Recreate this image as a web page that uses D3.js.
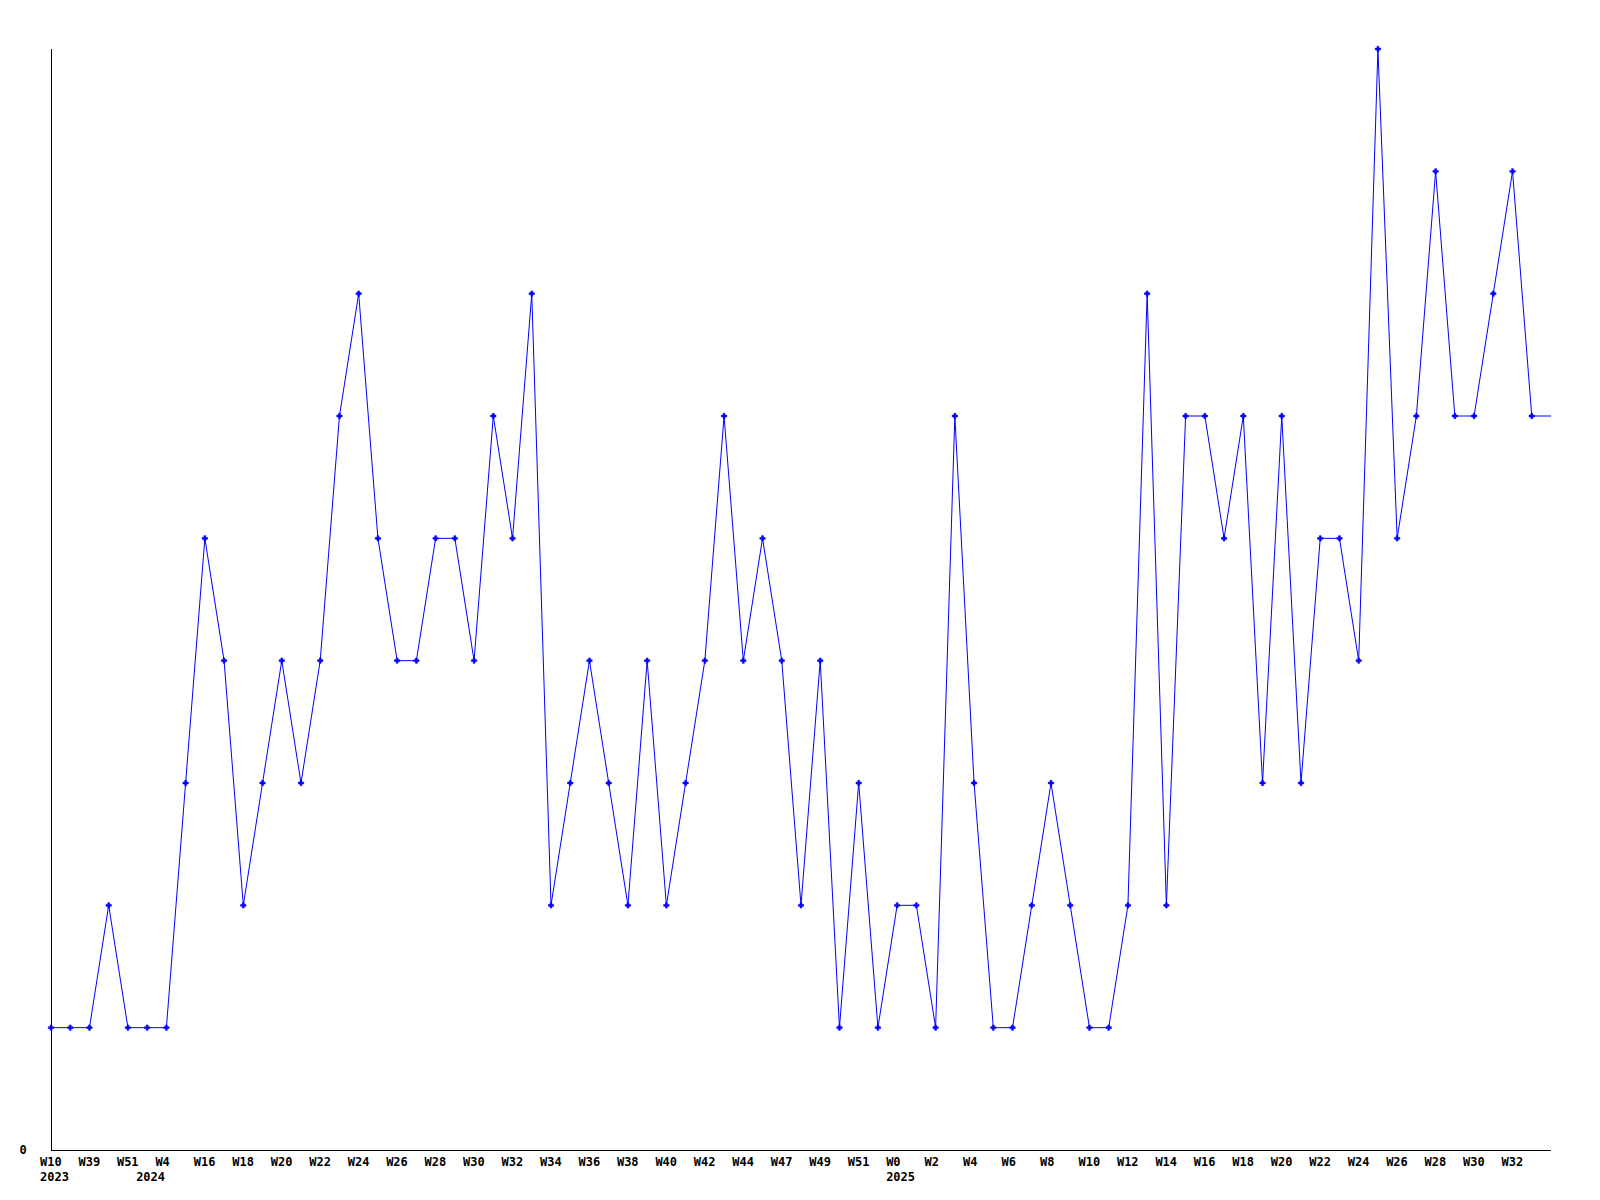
<!DOCTYPE html>
<html>
<head>
<meta charset="utf-8">
<script src="https://cdn.jsdelivr.net/npm/d3@7"></script>
<style>
  html, body { margin: 0; padding: 0; background: #fff; }
  svg { display: block; }
  text { font-family: "DejaVu Sans Mono", "Liberation Mono", monospace; font-weight: bold; font-size: 12px; fill: #000; }
</style>
</head>
<body>
<svg id="chart" width="1600" height="1200"></svg>
<script>
// Values per week (index order)
const values = [1,1,1,2,1,1,1,3,5,4,2,3,4,3,4,6,7,5,4,4,5,5,4,6,5,7,2,3,4,3,2,4,2,3,4,6,4,5,4,2,4,1,3,1,2,2,1,6,3,1,1,2,3,2,1,1,2,7,2,6,6,5,6,3,6,3,5,5,4,9,5,6,8,6,6,7,8,6,6];
// Week tick labels at every other point (index -> label)
const tickIndices = [0,2,4,6,8,10,12,14,16,18,20,22,24,26,28,30,32,34,36,38,40,42,44,46,48,50,52,54,56,58,60,62,64,66,68,70,72,74,76];
const tickLabels = ["W10","W39","W51","W4","W16","W18","W20","W22","W24","W26","W28","W30","W32","W34","W36","W38","W40","W42","W44","W47","W49","W51","W0","W2","W4","W6","W8","W10","W12","W14","W16","W18","W20","W22","W24","W26","W28","W30","W32"];
// Year labels (index -> year)
const yearIndices = [0, 5, 44];
const yearLabels = ["2023", "2024", "2025"];
const yTicks = [0];
const yMax = 9;

const svg = d3.select("#chart");
const mLeft = 51, mRight = 1551, mTop = 49, mBottom = 1150;

const x = d3.scaleLinear().domain([0, values.length - 1]).range([mLeft, mRight]);
const y = d3.scaleLinear().domain([0, yMax]).range([mBottom, mTop]);

// axes lines
svg.append("line").attr("x1", mLeft + 0.5).attr("x2", mLeft + 0.5).attr("y1", mTop).attr("y2", mBottom + 0.5)
  .attr("stroke", "#000").attr("stroke-width", 1);
svg.append("line").attr("x1", mLeft).attr("x2", mRight).attr("y1", mBottom + 0.5).attr("y2", mBottom + 0.5)
  .attr("stroke", "#000").attr("stroke-width", 1);

// y tick label
svg.selectAll("text.ytick").data(yTicks).enter().append("text")
  .attr("class", "ytick")
  .attr("x", 23).attr("y", d => y(d)).attr("dy", "0.35em")
  .attr("text-anchor", "middle")
  .text(d => d);

// x tick labels
const tickMap = tickIndices.map((idx, k) => ({idx, label: tickLabels[k]}));
svg.selectAll("text.xtick").data(tickMap).enter().append("text")
  .attr("class", "xtick")
  .attr("x", d => x(d.idx) - 11).attr("y", 1162).attr("dy", "0.35em")
  .attr("text-anchor", "start")
  .text(d => d.label);

const yearMap = yearIndices.map((idx, k) => ({idx, label: yearLabels[k]}));
svg.selectAll("text.year").data(yearMap).enter().append("text")
  .attr("class", "year")
  .attr("x", d => x(d.idx) - 11).attr("y", 1177).attr("dy", "0.35em")
  .attr("text-anchor", "start")
  .text(d => d.label);

// line
const line = d3.line().x((d, i) => x(i)).y(d => y(d));
svg.append("path").datum(values)
  .attr("d", line)
  .attr("fill", "none")
  .attr("stroke", "#0000ff")
  .attr("stroke-width", 1);

// markers (all but the last point, which sits at the plot edge)
const cross = d3.symbol().type(d3.symbolCross).size(16);
svg.selectAll("path.mk").data(values.slice(0, values.length - 1)).enter().append("path")
  .attr("class", "mk")
  .attr("transform", (d, i) => `translate(${x(i)},${y(d)})`)
  .attr("d", cross)
  .attr("fill", "#0000ff")
  .attr("stroke", "#0000ff")
  .attr("stroke-width", 0.6);
</script>
</body>
</html>
